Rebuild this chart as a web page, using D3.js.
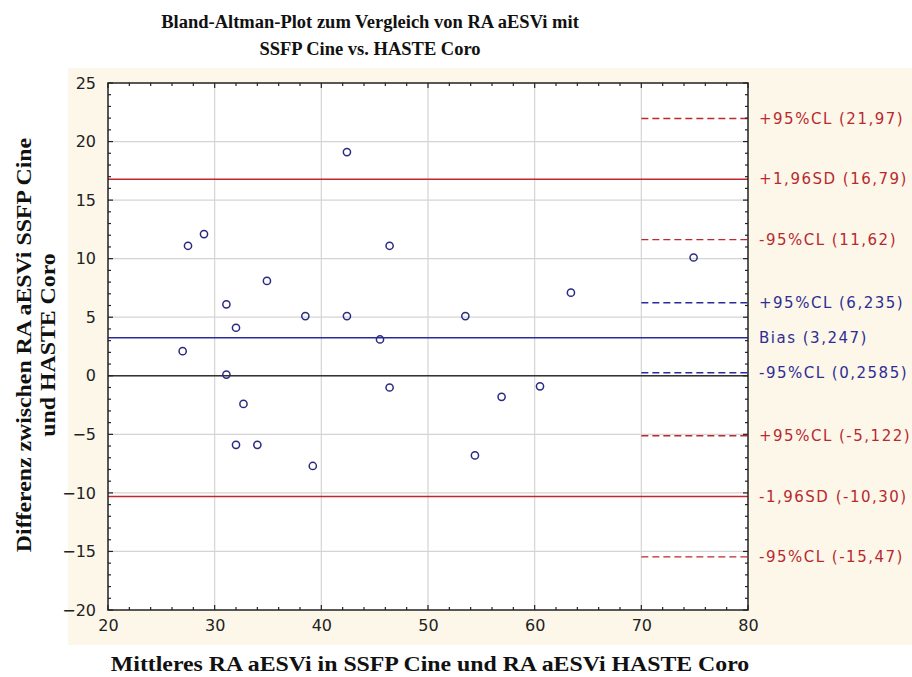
<!DOCTYPE html>
<html>
<head>
<meta charset="utf-8">
<script src="https://cdn.jsdelivr.net/npm/d3@7"></script>
<style>
	body { margin: 0; background: #fff; }
	svg { display: block; }
</style>
</head>
<body>
<div id="chartDiv"></div>
<script>
;(function() {

	// mean of both methods (x) and difference (y)
	var meanVals = [27.0, 27.5, 29.0, 31.1, 31.1, 32.0, 32.7, 32.0, 34.0, 34.9, 38.5, 39.2,
		42.4, 42.4, 45.5, 46.4, 46.4, 53.5, 54.4, 56.9, 60.5, 63.4, 74.9];
	var diffVals = [2.1, 11.1, 12.1, 6.1, 0.1, 4.1, -2.4, -5.9, -5.9, 8.1, 5.1, -7.7,
		19.1, 5.1, 3.1, 11.1, -1.0, 5.1, -6.8, -1.8, -0.9, 7.1, 10.1];

	// reference lines: value, label, colour group, dashed or solid
	var refValues = [21.97, 16.79, 11.62, 6.235, 3.247, 0.2585, -5.122, -10.30, -15.47];
	var refLabels = ["+95%CL (21,97)", "+1,96SD (16,79)", "-95%CL (11,62)", "+95%CL (6,235)",
		"Bias (3,247)", "-95%CL (0,2585)", "+95%CL (-5,122)", "-1,96SD (-10,30)", "-95%CL (-15,47)"];
	var refGroups = ["red", "red", "red", "blue", "blue", "blue", "red", "red", "red"];
	var refDashed = [true, false, true, true, false, true, true, false, true];

	var xTicks = [20, 30, 40, 50, 60, 70, 80];
	var yTicks = [-20, -15, -10, -5, 0, 5, 10, 15, 20, 25];

	var titleLines = ["Bland-Altman-Plot zum Vergleich von RA aESVi mit", "SSFP Cine vs. HASTE Coro"];
	var yTitleLines = ["Differenz zwischen RA aESVi SSFP Cine", "und HASTE Coro"];
	var xTitle = "Mittleres RA aESVi in SSFP Cine und RA aESVi HASTE Coro";

	var width = 912;
	var height = 677;
	var margin = { top: 83, right: 164, bottom: 67, left: 108 };
	var chartWidth = width - margin.left - margin.right;
	var chartHeight = height - margin.top - margin.bottom;

	var colors = { red: "#c0282d", blue: "#2a2a9e" };
	var labelColors = { red: "#b8292f", blue: "#2d2d96" };
	var uiFont = "'DejaVu Sans', 'Liberation Sans', sans-serif";
	var serifFont = "'Liberation Serif', 'DejaVu Serif', serif";
	var titleStretch = 1.19;

	var chart = d3.select("#chartDiv").append("svg")
		.attr("width", width)
		.attr("height", height);

	// beige graph panel
	chart.append("rect")
		.attr("x", 68).attr("y", 68)
		.attr("width", width - 68).attr("height", 645 - 68)
		.attr("fill", "#fdf7e9");

	var xScale = d3.scaleLinear().domain([20, 80]).range([0, chartWidth]);
	var yScale = d3.scaleLinear().domain([-20, 25]).range([chartHeight, 0]);

	var plot = chart.append("g")
		.attr("transform", "translate(" + margin.left + "," + margin.top + ")");

	plot.append("rect")
		.attr("width", chartWidth).attr("height", chartHeight)
		.attr("fill", "#fff");

	// grid
	plot.selectAll(".vgrid")
		.data(xTicks.slice(1, -1)).enter().append("line")
		.attr("x1", function(d) { return xScale(d); })
		.attr("x2", function(d) { return xScale(d); })
		.attr("y1", 0).attr("y2", chartHeight)
		.attr("stroke", "#d4d4d4").attr("stroke-width", 1.2);

	plot.selectAll(".hgrid")
		.data(yTicks.slice(1, -1)).enter().append("line")
		.attr("y1", function(d) { return yScale(d); })
		.attr("y2", function(d) { return yScale(d); })
		.attr("x1", 0).attr("x2", chartWidth)
		.attr("stroke", "#d4d4d4").attr("stroke-width", 1.2);

	// zero line
	plot.append("line")
		.attr("x1", 0).attr("x2", chartWidth)
		.attr("y1", yScale(0)).attr("y2", yScale(0))
		.attr("stroke", "#333").attr("stroke-width", 1.4);

	// reference lines
	refValues.forEach(function(v, i) {
		plot.append("line")
			.attr("x1", refDashed[i] ? xScale(70) : 0)
			.attr("x2", chartWidth)
			.attr("y1", yScale(v)).attr("y2", yScale(v))
			.attr("stroke", colors[refGroups[i]])
			.attr("stroke-width", refDashed[i] ? 1.3 : 1.5)
			.attr("stroke-dasharray", refDashed[i] ? "7,4" : null);

		chart.append("text")
			.attr("x", margin.left + chartWidth + 11)
			.attr("y", margin.top + yScale(v))
			.attr("dy", "0.35em")
			.attr("fill", labelColors[refGroups[i]])
			.style("font-family", uiFont)
			.style("font-size", "15px")
			.style("letter-spacing", "1.5px")
			.text(refLabels[i]);
	});

	// points
	plot.selectAll(".dot")
		.data(meanVals).enter().append("circle")
		.attr("class", "dot")
		.attr("cx", function(d) { return xScale(d); })
		.attr("cy", function(d, i) { return yScale(diffVals[i]); })
		.attr("r", 3.6)
		.attr("fill", "none")
		.attr("stroke", "#2a2a80")
		.attr("stroke-width", 1.5);

	// axes with inward ticks
	var xMinor = d3.range(20, 81, 2);
	var yMinor = d3.range(-20, 26, 1);

	var bottomAxis = d3.axisBottom(xScale).tickValues(xTicks).tickSize(0).tickPadding(10);
	plot.append("g")
		.attr("transform", "translate(0," + chartHeight + ")")
		.call(bottomAxis)
		.call(function(g) {
			g.select(".domain").remove();
			g.selectAll("text").style("font-family", uiFont).style("font-size", "16px").attr("fill", "#222");
		});

	var leftAxis = d3.axisLeft(yScale).tickValues(yTicks).tickSize(0).tickPadding(12);
	plot.append("g")
		.call(leftAxis)
		.call(function(g) {
			g.select(".domain").remove();
			g.selectAll("text").style("font-family", uiFont).style("font-size", "16px").attr("fill", "#222");
		});

	// tick marks
	[0, chartHeight].forEach(function(yPos, k) {
		plot.selectAll(null)
			.data(xMinor).enter().append("line")
			.attr("x1", function(d) { return xScale(d); })
			.attr("x2", function(d) { return xScale(d); })
			.attr("y1", yPos)
			.attr("y2", function(d) { var len = d % 10 === 0 ? 5 : 3; return k === 0 ? yPos + len : yPos - len; })
			.attr("stroke", "#222").attr("stroke-width", 1.2);
	});
	[0, chartWidth].forEach(function(xPos, k) {
		plot.selectAll(null)
			.data(yMinor).enter().append("line")
			.attr("y1", function(d) { return yScale(d); })
			.attr("y2", function(d) { return yScale(d); })
			.attr("x1", xPos)
			.attr("x2", function(d) { var len = d % 5 === 0 ? 5 : 3; return k === 0 ? xPos + len : xPos - len; })
			.attr("stroke", "#222").attr("stroke-width", 1.2);
	});

	// frame
	plot.append("rect")
		.attr("width", chartWidth).attr("height", chartHeight)
		.attr("fill", "none")
		.attr("stroke", "#222").attr("stroke-width", 1.5);

	// titles
	chart.selectAll(".title")
		.data(titleLines).enter().append("text")
		.attr("x", 370)
		.attr("y", function(d, i) { return 28 + i * 27; })
		.attr("text-anchor", "middle")
		.style("font-family", serifFont)
		.style("font-weight", "bold")
		.style("font-size", "18.5px")
		.attr("fill", "#111")
		.text(function(d) { return d; });

	chart.append("text")
		.attr("text-anchor", "middle")
		.attr("transform", "translate(" + (margin.left + chartWidth / 2 + 2) + ",671) scale(" + titleStretch + ",1)")
		.style("font-family", serifFont)
		.style("font-weight", "bold")
		.style("font-size", "20px")
		.attr("fill", "#111")
		.text(xTitle);

	chart.selectAll(".ytitle")
		.data(yTitleLines).enter().append("text")
		.attr("text-anchor", "middle")
		.attr("transform", function(d, i) {
			return "translate(" + (31 + i * 24) + ",345) rotate(-90) scale(" + titleStretch + ",1)";
		})
		.style("font-family", serifFont)
		.style("font-weight", "bold")
		.style("font-size", "20px")
		.attr("fill", "#111")
		.text(function(d) { return d; });

})();
</script>
</body>
</html>
